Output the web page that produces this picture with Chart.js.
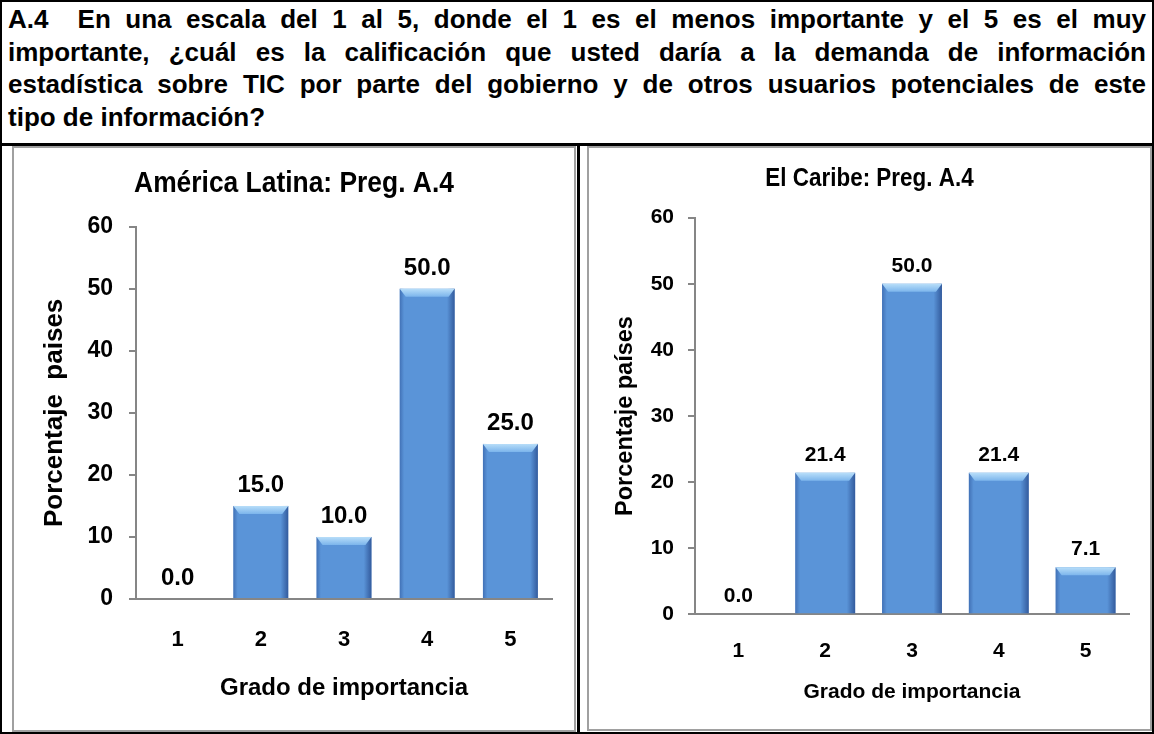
<!DOCTYPE html>
<html lang="es">
<head>
<meta charset="utf-8">
<title>Preg. A.4</title>
<script src="https://cdn.jsdelivr.net/npm/chart.js@4.4.0/dist/chart.umd.min.js"></script>
<style>
  html, body { margin: 0; padding: 0; background: #fff; }
  #page { position: relative; width: 1154px; height: 734px; overflow: hidden; }
  .abs { position: absolute; box-sizing: border-box; }
  #frame { left: 0; top: 0; width: 1154px; height: 734px; border: 2px solid #000; }
  #header {
    left: 8px; top: 3px; width: 1138px;
    font-family: "Liberation Sans", Arial, sans-serif; font-weight: bold;
    font-size: 26px; line-height: 32.7px; color: #000;
  }
  #header .j { text-align: justify; text-align-last: justify; white-space: nowrap; }
  #hline { left: 0; top: 143px; width: 1154px; height: 3px; background: #000; }
  #vline { left: 577px; top: 143px; width: 3px; height: 591px; background: #000; }
  .box { border: 2px solid #a0a0a0; background: #fff; }
  #boxLeft { left: 12px; top: 146px; width: 564px; height: 586px; }
  #boxRight { left: 587px; top: 146px; width: 565px; height: 585px; }
  canvas { display: block; }
</style>
</head>
<body>
<div id="page">
  <div class="abs" id="header">
    <div class="j">A.4&nbsp; En una escala del 1 al 5, donde el 1 es el menos importante y el 5 es el muy</div>
    <div class="j">importante, ¿cuál es la calificación que usted daría a la demanda de información</div>
    <div class="j">estadística sobre TIC por parte del gobierno y de otros usuarios potenciales de este</div>
    <div>tipo de información?</div>
  </div>
  <div class="abs" id="hline"></div>
  <div class="abs" id="vline"></div>
  <div class="abs box" id="boxLeft"><canvas id="chartLatam" width="560" height="582"></canvas></div>
  <div class="abs box" id="boxRight"><canvas id="chartCaribe" width="561" height="581"></canvas></div>
  <div class="abs" id="frame"></div>
</div>
<script>
// Data
const categories = ['1', '2', '3', '4', '5'];
const latamValues = [0.0, 15.0, 10.0, 50.0, 25.0];
const caribeValues = [0.0, 21.4, 50.0, 21.4, 7.1];
const yMin = 0;
const yMax = 60;
const yStep = 10;

const SANS = '"Liberation Sans", Arial, sans-serif';
const AXIS_GRAY = '#868686';
const BAR_BLUE = '#5a94d8';

// Condensed chart title (no narrow font available, so squeeze it horizontally)
const chartTitlePlugin = {
  id: 'chartTitle',
  afterDraw(chart, args, opts) {
    const ctx = chart.ctx;
    ctx.save();
    ctx.font = `bold ${opts.size}px ${SANS}`;
    ctx.fillStyle = '#000';
    ctx.textAlign = 'center';
    ctx.textBaseline = 'alphabetic';
    ctx.translate(chart.width / 2, opts.baseline);
    ctx.scale(opts.squeeze, 1);
    ctx.fillText(opts.text, 0, 0);
    ctx.restore();
  }
};

// Bevelled "3D" look on top of each bar
const bevelPlugin = {
  id: 'bevel',
  afterDatasetsDraw(chart) {
    const ctx = chart.ctx;
    chart.getDatasetMeta(0).data.forEach(bar => {
      const { x, y, base, width } = bar.getProps(['x', 'y', 'base', 'width'], true);
      const h = base - y;
      if (h <= 0) return;
      const left = x - width / 2;
      const right = x + width / 2;
      ctx.save();
      const side = ctx.createLinearGradient(left, 0, right, 0);
      side.addColorStop(0, 'rgba(45,85,155,0.55)');
      side.addColorStop(0.08, 'rgba(45,85,155,0)');
      side.addColorStop(0.86, 'rgba(30,60,125,0)');
      side.addColorStop(1, 'rgba(30,60,125,0.65)');
      ctx.fillStyle = side;
      ctx.fillRect(left, y, width, h);

      const b = Math.min(8, h);
      const top = ctx.createLinearGradient(0, y, 0, y + b);
      top.addColorStop(0, '#b8def9');
      top.addColorStop(1, '#7cb5ec');
      ctx.fillStyle = top;
      ctx.beginPath();
      ctx.moveTo(left, y);
      ctx.lineTo(right, y);
      ctx.lineTo(right - 6, y + b);
      ctx.lineTo(left + 6, y + b);
      ctx.closePath();
      ctx.fill();
      ctx.restore();
    });
  }
};

// Value labels above the bars
const valueLabelPlugin = {
  id: 'valueLabels',
  afterDatasetsDraw(chart, args, opts) {
    const ctx = chart.ctx;
    const values = chart.data.datasets[0].data;
    ctx.save();
    ctx.font = `bold ${opts.size}px ${SANS}`;
    ctx.fillStyle = '#000';
    ctx.textAlign = 'center';
    ctx.textBaseline = 'alphabetic';
    chart.getDatasetMeta(0).data.forEach((bar, i) => {
      const { x, y } = bar.getProps(['x', 'y'], true);
      ctx.fillText(values[i].toFixed(1), x, y - opts.gap);
    });
    ctx.restore();
  }
};

function makeChart(canvasId, values, cfg) {
  const ctx = document.getElementById(canvasId);
  return new Chart(ctx, {
    type: 'bar',
    data: {
      labels: categories,
      datasets: [{
        data: values,
        backgroundColor: BAR_BLUE,
        borderWidth: 0,
        categoryPercentage: 1,
        barPercentage: cfg.barPct
      }]
    },
    options: {
      responsive: false,
      animation: false,
      events: [],
      layout: { padding: { top: cfg.padTop, left: 0, right: cfg.padRight, bottom: 0 } },
      plugins: {
        legend: { display: false },
        tooltip: { enabled: false },
        title: { display: false },
        chartTitle: { text: cfg.title, size: cfg.titleSize, baseline: cfg.titleBaseline, squeeze: 0.88 },
        valueLabels: { size: cfg.labelSize, gap: cfg.labelGap }
      },
      scales: {
        x: {
          afterFit: scale => { scale.height = cfg.xHeight; },
          grid: { display: true, drawOnChartArea: false, drawTicks: false },
          border: { display: true, color: AXIS_GRAY, width: 2 },
          ticks: {
            color: '#000',
            padding: cfg.xTickPad,
            font: { family: SANS, weight: 'bold', size: cfg.xTickSize, lineHeight: 1.2 }
          },
          title: {
            display: true,
            text: 'Grado de importancia',
            color: '#000',
            font: { family: SANS, weight: 'bold', size: cfg.xTitleSize, lineHeight: 1.2 },
            padding: { top: 0, bottom: cfg.xTitlePad }
          }
        },
        y: {
          min: yMin,
          max: yMax,
          afterFit: scale => { scale.width = cfg.yWidth; },
          grid: { display: true, drawOnChartArea: false, drawTicks: true, tickLength: 7, color: AXIS_GRAY, lineWidth: 2 },
          border: { display: true, color: AXIS_GRAY, width: 2 },
          ticks: {
            stepSize: yStep,
            color: '#000',
            padding: cfg.yTickPad,
            font: { family: SANS, weight: 'bold', size: cfg.yTickSize }
          },
          title: {
            display: true,
            text: cfg.yTitle,
            color: '#000',
            font: { family: SANS, weight: 'bold', size: cfg.yTitleSize, lineHeight: 1.2 },
            padding: { top: cfg.yTitlePad, bottom: 0 }
          }
        }
      }
    },
    plugins: [bevelPlugin, valueLabelPlugin, chartTitlePlugin]
  });
}

makeChart('chartLatam', latamValues, {
  title: 'América Latina: Preg. A.4',
  titleSize: 30, titleBaseline: 44,
  padTop: 78.7, padRight: 22, barPct: 0.66,
  xHeight: 131, xTickPad: 28, xTickSize: 22,
  xTitleSize: 24, xTitlePad: 27.5,
  yWidth: 122, yTickPad: 16, yTickSize: 23,
  yTitle: 'Porcentaje  paises', yTitleSize: 26, yTitlePad: 25,
  labelSize: 24, labelGap: 14
});

makeChart('chartCaribe', caribeValues, {
  title: 'El Caribe: Preg. A.4',
  titleSize: 25.5, titleBaseline: 38,
  padTop: 69.7, padRight: 21, barPct: 0.69,
  xHeight: 114.7, xTickPad: 24, xTickSize: 21,
  xTitleSize: 21, xTitlePad: 24.4,
  yWidth: 106, yTickPad: 14, yTickSize: 21,
  yTitle: 'Porcentaje países', yTitleSize: 23.5, yTitlePad: 22,
  labelSize: 21, labelGap: 12
});
</script>
</body>
</html>
